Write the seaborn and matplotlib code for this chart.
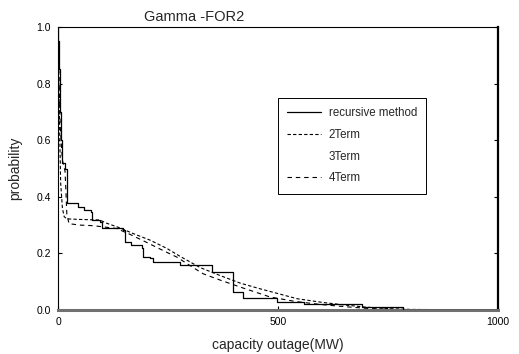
import matplotlib
matplotlib.use("Agg")
import matplotlib.pyplot as plt
import seaborn as sns
import pandas as pd

# ---- data ----
rec_x = [0, 1, 2, 4, 6, 10, 15, 20, 46, 58, 74, 77, 95, 99, 148, 152, 167, 190, 194, 209,
         216, 277, 350, 398, 420, 498, 560, 690, 785, 1000]
rec_y = [1.0, 0.95, 0.85, 0.70, 0.60, 0.52, 0.50, 0.378, 0.365, 0.353, 0.345, 0.318, 0.312,
         0.289, 0.283, 0.241, 0.23, 0.218, 0.188, 0.183, 0.17, 0.159, 0.134, 0.064, 0.042,
         0.03, 0.02, 0.01, 0.0, 0.0]

t2_x = [0, 3, 6, 10, 14, 20, 50, 95, 110, 141, 171, 209, 247, 277, 323, 368, 414, 459,
        500, 543, 600, 650, 700, 750, 800, 1000]
t2_y = [1.0, 0.70, 0.45, 0.36, 0.33, 0.322, 0.32, 0.318, 0.307, 0.29, 0.27, 0.247, 0.218,
        0.19, 0.15, 0.122, 0.095, 0.075, 0.058, 0.04, 0.027, 0.018, 0.01, 0.005, 0.002, 0.0]

t3_x = [0, 10, 50, 100, 200, 300, 400, 500, 600, 700, 800, 1000]
t3_y = [1.0, 0.40, 0.31, 0.30, 0.25, 0.16, 0.09, 0.05, 0.025, 0.01, 0.002, 0.0]

t4_x = [0, 2, 5, 10, 16, 18, 20, 25, 50, 80, 133, 160, 200, 239, 270, 307, 330, 368, 420,
        482, 540, 600, 650, 700, 760, 1000]
t4_y = [1.0, 0.85, 0.65, 0.53, 0.49, 0.42, 0.34, 0.305, 0.30, 0.298, 0.288, 0.27, 0.24,
        0.21, 0.187, 0.15, 0.128, 0.106, 0.078, 0.046, 0.03, 0.019, 0.012, 0.006, 0.002, 0.0]

x_ticks = [0, 500, 1000]
y_ticks = [0.0, 0.2, 0.4, 0.6, 0.8, 1.0]
y_ticklabels = ["0.0", "0.2", "0.4", "0.6", "0.8", "1.0"]

title = "Gamma -FOR2"
x_label = "capacity outage(MW)"
y_label = "probability"

sns.set_theme(style="white")
plt.rcParams["font.family"] = ["Liberation Sans", "DejaVu Sans"]

fig = plt.figure(figsize=(5.19, 3.54), dpi=100)
ax = fig.add_axes([58 / 519, 1 - 310 / 354, 440 / 519, 283 / 354])

df_rec = pd.DataFrame({"x": rec_x, "y": rec_y})
df_t2 = pd.DataFrame({"x": t2_x, "y": t2_y})
df_t3 = pd.DataFrame({"x": t3_x, "y": t3_y})
df_t4 = pd.DataFrame({"x": t4_x, "y": t4_y})

sns.lineplot(data=df_t3, x="x", y="y", ax=ax, color="white", lw=0.9, zorder=1,
             label="3Term", estimator=None, sort=False)
sns.lineplot(data=df_rec, x="x", y="y", ax=ax, color="black", lw=0.9, zorder=3,
             drawstyle="steps-post", label="recursive method", estimator=None, sort=False)
sns.lineplot(data=df_t2, x="x", y="y", ax=ax, color="black", lw=0.8, zorder=2,
             dashes=(3, 2), label="2Term", estimator=None, sort=False)
sns.lineplot(data=df_t4, x="x", y="y", ax=ax, color="black", lw=0.8, zorder=2,
             dashes=(4, 3.5), label="4Term", estimator=None, sort=False)

ax.set_xlim(0, 1000)
ax.set_ylim(0, 1.0)
ax.set_xticks(x_ticks)
ax.set_xticklabels([str(v) for v in x_ticks])
ax.set_yticks(y_ticks)
ax.set_yticklabels(y_ticklabels)
ax.tick_params(direction="in", length=3, width=0.8, labelsize=7.5, colors="black",
               pad=5, top=False, right=True, left=True, bottom=True)

for s in ["left", "top"]:
    ax.spines[s].set_color("black")
    ax.spines[s].set_linewidth(0.8)
ax.spines["right"].set_color("black")
ax.spines["right"].set_linewidth(1.6)
ax.spines["bottom"].set_color("#707070")
ax.spines["bottom"].set_linewidth(2.2)

ax.set_xlabel(x_label, fontsize=10, labelpad=8)
ax.set_ylabel(y_label, fontsize=10, labelpad=10)
ax.set_title(title, fontsize=10.5, x=0.31, pad=4)

handles, labels = ax.get_legend_handles_labels()
order = [labels.index(l) for l in ["recursive method", "2Term", "3Term", "4Term"]]
leg = ax.legend([handles[i] for i in order], [labels[i] for i in order],
                loc="upper left", bbox_to_anchor=(0.487, 0.77), fontsize=8.3,
                frameon=True, fancybox=False, edgecolor="black", framealpha=1,
                handlelength=2.9, labelspacing=0.85, borderpad=0.8, handletextpad=0.7)
leg.get_frame().set_linewidth(0.7)

fig.savefig("out.png", dpi=100)
